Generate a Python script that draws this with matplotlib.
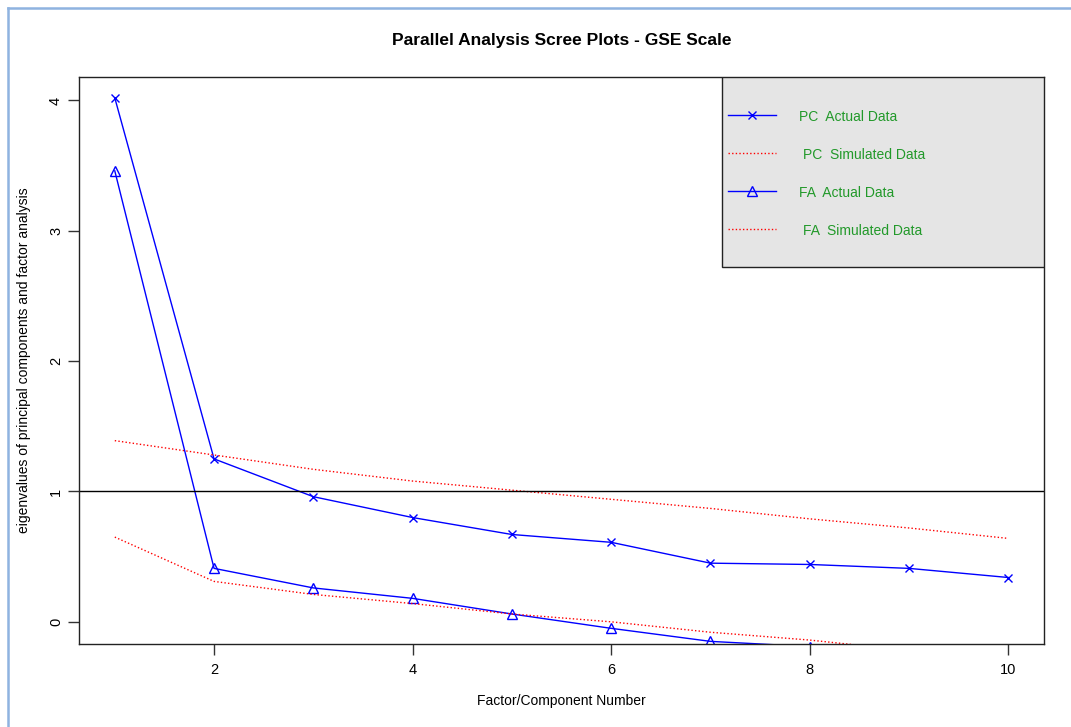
import matplotlib
matplotlib.use("Agg")
from matplotlib import pyplot as plt
from matplotlib.lines import Line2D
from matplotlib.patches import Rectangle

plt.rcParams['font.family'] = ['Liberation Sans', 'DejaVu Sans']

factors = [1, 2, 3, 4, 5, 6, 7, 8, 9, 10]
pc_actual = [4.02, 1.25, 0.96, 0.80, 0.67, 0.61, 0.45, 0.44, 0.41, 0.34]
pc_simulated = [1.39, 1.28, 1.17, 1.08, 1.01, 0.94, 0.87, 0.79, 0.72, 0.64]
fa_actual = [3.46, 0.41, 0.26, 0.18, 0.06, -0.05, -0.15, -0.19, -0.24, -0.29]
fa_simulated = [0.65, 0.31, 0.21, 0.14, 0.06, 0.00, -0.08, -0.14, -0.22, -0.30]

legend_labels = ["PC  Actual Data", "PC  Simulated Data", "FA  Actual Data", "FA  Simulated Data"]

blue = '#0000ff'
red = '#ff0000'
dots = (0, (1, 1.6))

fig = plt.figure(figsize=(10.71, 7.27), dpi=100)
ax = fig.add_axes([0.0738, 0.1142, 0.9010, 0.7799])

ax.plot(factors, pc_actual, color=blue, lw=1, marker='x', ms=6, mew=1)
ax.plot(factors, pc_simulated, color=red, lw=1, linestyle=dots)
ax.plot(factors, fa_actual, color=blue, lw=1, marker='^', ms=7, mew=1, mfc='none')
ax.plot(factors, fa_simulated, color=red, lw=1, linestyle=dots)
ax.axhline(1, color='black', lw=1)

ax.set_xlim(0.64, 10.36)
ax.set_ylim(-0.17, 4.18)
ax.set_xticks([2, 4, 6, 8, 10])
ax.set_yticks([0, 1, 2, 3, 4])
ax.tick_params(axis='both', direction='out', length=8, width=1, color='#333333', labelsize=10.5)
ax.tick_params(axis='x', pad=6)
for lab in ax.get_yticklabels():
    lab.set_rotation(90)
    lab.set_va('center')
for s in ax.spines.values():
    s.set_color('#222222')
    s.set_linewidth(1)

ax.set_title("Parallel Analysis Scree Plots - GSE Scale", fontsize=12.5, fontweight='bold', pad=23)
ax.set_xlabel("Factor/Component Number", fontsize=10, labelpad=12)
ax.set_ylabel("eigenvalues of principal components and factor analysis", fontsize=10, labelpad=13)

# legend box drawn by hand, as in the R output
ax.add_patch(Rectangle((0.666, 0.665), 0.334, 0.335, transform=ax.transAxes,
                       facecolor='#e5e5e5', edgecolor='#222222', lw=1, zorder=5))
leg_y = [0.933, 0.866, 0.799, 0.732]
leg_x = [0.746, 0.750, 0.746, 0.750]
styles = [dict(color=blue, lw=1, marker='x', ms=6),
          dict(color=red, lw=1, linestyle=dots),
          dict(color=blue, lw=1, marker='^', ms=7, mfc='none'),
          dict(color=red, lw=1, linestyle=dots)]
for y, x, lab, st in zip(leg_y, leg_x, legend_labels, styles):
    ax.add_line(Line2D([0.6725, 0.7225], [y, y], transform=ax.transAxes, zorder=6,
                       markevery=[], **st))
    if 'marker' in st:
        ax.add_line(Line2D([0.6975], [y], transform=ax.transAxes, zorder=6, **st))
    ax.text(x, y - 0.003, lab, transform=ax.transAxes, color='#22992a', fontsize=10,
            va='center', ha='left', zorder=7)

# screenshot frame
fig.add_artist(Line2D([8/1071, 8/1071], [0, 1 - 8/727], color='#8fb3e0', lw=1.8))
fig.add_artist(Line2D([8/1071, 1], [1 - 8/727, 1 - 8/727], color='#8fb3e0', lw=1.8))

fig.savefig("out.png", dpi=100)
